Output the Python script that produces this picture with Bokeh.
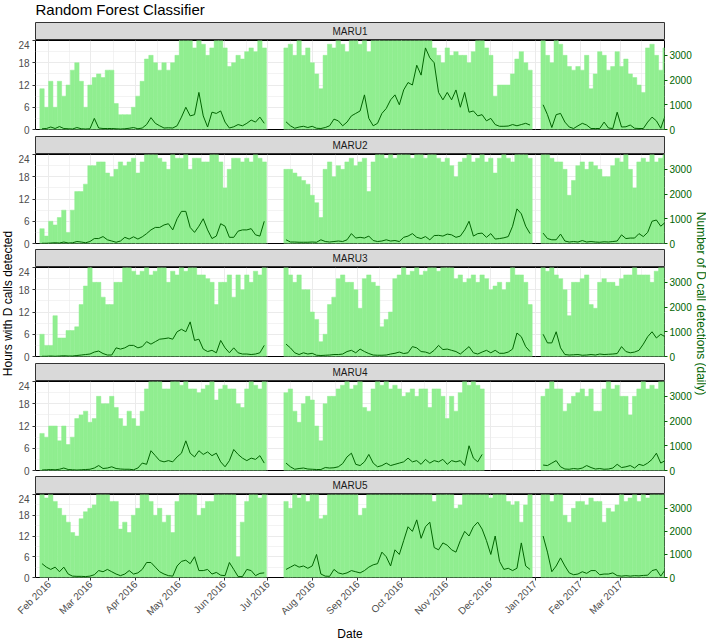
import math
import numpy as np
import pandas as pd
from bokeh.plotting import figure
from bokeh.layouts import column, row
from bokeh.models import (Range1d, LinearAxis, FixedTicker, Label, Grid,
                          DatetimeTickFormatter, ColumnDataSource)
from bokeh.embed import file_html
from bokeh.resources import INLINE

N = None  # no recording on that day

title_text = "Random Forest Classifier"
stations = ["MARU1", "MARU2", "MARU3", "MARU4", "MARU5"]
bin_start = "2016-01-26"      # first 3-day bin
bin_days = 3
x_start = "2016-01-23"
x_end = "2017-03-31 02:00"
month_ticks = ["2016-02-01", "2016-03-01", "2016-04-01", "2016-05-01", "2016-06-01",
               "2016-07-01", "2016-08-01", "2016-09-01", "2016-10-01", "2016-11-01",
               "2016-12-01", "2017-01-01", "2017-02-01", "2017-03-01"]
hour_ticks = [0, 6, 12, 18, 24]
hour_minor = [3, 9, 15, 21]
count_ticks = [0, 1000, 2000, 3000]
count_max = 3600

hours_maru1 = [11, 6, 13, 6, 13, 9, 12, 16, 18, 13,
               6, 12, 14, 15, 14, 16, 16, 7, 4, 4,
               4, 6, 9, 13, 19, 20, 18, 16, 18, 16,
               18, 20, 24, 24, 24, 22, 24, 23, 20, 22,
               24, 24, 22, 17, 18, 20, 19, 21, 22, 21,
               24, 22, N, N, N, N, 22, 23, 20, 24,
               20, 22, 18, 15, 11, 20, 23, 22, 24, 23,
               21, 24, 24, 23, 24, 21, 24, 24, 24, 24,
               24, 24, 24, 24, 24, 24, 24, 24, 24, 24,
               22, 20, 18, 22, 20, 21, 20, 20, 18, 21,
               24, 24, 22, 20, 9, 12, 12, 12, 15, 19,
               21, 18, 16, N, N, 24, 20, 18, 24, 23,
               20, 17, 16, 17, 16, 20, 11, 15, 21, 20,
               16, 17, 21, 17, 19, 15, 14, 12, 10, 22,
               23, 20, 16, 22]
counts_maru1 = [30, 40, 100, 40, 120, 40, 30, 20, 80, 30,
                20, 30, 450, 60, 40, 40, 40, 30, 20, 30,
                50, 80, 30, 60, 200, 480, 250, 150, 60, 70,
                60, 150, 500, 900, 550, 600, 1500, 550, 100, 700,
                650, 750, 300, 60, 110, 200, 150, 250, 380, 300,
                500, 250, N, N, N, N, 310, 150, 50, 100,
                130, 80, 130, 50, 40, 80, 150, 420, 350, 150,
                300, 550, 650, 750, 1400, 450, 150, 250, 650, 850,
                1200, 1400, 1000, 1600, 1900, 1800, 2600, 2200, 3300, 2900,
                2700, 1500, 1200, 1500, 1200, 1600, 900, 1500, 700, 750,
                550, 600, 350, 450, 200, 130, 130, 140, 200, 150,
                200, 250, 180, N, N, 1000, 600, 80, 600, 650,
                300, 100, 40, 150, 250, 180, 40, 40, 40, 300,
                60, 40, 700, 100, 110, 180, 50, 40, 40, 300,
                500, 350, 50, 550]

hours_maru2 = [4, 2, 6, 5, 7, 9, 3, 9, 14, 14,
               16, 21, 21, 22, 22, 19, 18, 20, 22, 21,
               22, 23, 19, 22, 24, 24, 24, 23, 22, 20,
               24, 23, 23, 24, 20, 23, 23, 22, 22, 24,
               24, 22, 15, 20, 23, 23, 22, 23, 22, 24,
               23, 22, N, N, N, N, 20, 20, 19, 18,
               17, 16, 13, 11, 7, 20, 22, 18, 21, 20,
               22, 23, 21, 22, 23, 14, 22, 24, 24, 23,
               24, 23, 24, 24, 24, 23, 24, 24, 23, 24,
               24, 23, 22, 23, 21, 18, 22, 23, 24, 22,
               23, 24, 22, 23, 19, 23, 24, 23, 22, 24,
               24, 24, 23, N, N, 24, 24, 23, 22, 22,
               20, 13, 17, 21, 22, 20, 22, 21, 20, 18,
               18, 21, 23, 22, 24, 20, 15, 22, 23, 22,
               24, 22, 23, 24]
counts_maru2 = [10, 10, 20, 30, 20, 60, 20, 30, 80, 60,
                30, 80, 200, 200, 280, 150, 100, 50, 100, 250,
                180, 270, 180, 270, 400, 550, 650, 650, 750, 800,
                550, 1000, 1300, 1300, 650, 450, 700, 1000, 550, 200,
                300, 800, 700, 250, 250, 500, 550, 550, 600, 350,
                300, 900, N, N, N, N, 150, 60, 60, 50,
                50, 50, 60, 50, 150, 80, 60, 80, 100, 80,
                150, 400, 220, 250, 220, 300, 120, 80, 100, 150,
                100, 120, 80, 250, 300, 400, 250, 200, 280, 150,
                320, 330, 300, 380, 350, 250, 300, 550, 900, 300,
                400, 420, 250, 400, 180, 200, 230, 280, 700, 1400,
                1200, 700, 400, N, N, 420, 200, 150, 150, 380,
                100, 60, 80, 60, 120, 60, 80, 60, 50, 70,
                60, 80, 100, 350, 200, 220, 220, 400, 280, 450,
                900, 950, 700, 850]

hours_maru3 = [6, 3, 3, 11, 5, 5, 7, 7, 8, 14,
               19, 24, 20, 20, 16, 14, 14, 20, 20, 24,
               24, 23, 22, 23, 24, 22, 23, 24, 24, 20,
               23, 22, 24, 23, 24, 24, 22, 22, 21, 20,
               14, 20, 20, 22, 16, 22, 18, 22, 20, 23,
               22, 24, N, N, N, N, 24, 22, 20, 22,
               18, 18, 12, 10, 4, 6, 14, 16, 21, 22,
               20, 20, 18, 13, 21, 22, 20, 19, 8, 10,
               12, 21, 22, 24, 22, 23, 24, 22, 23, 24,
               24, 23, 24, 24, 24, 21, 22, 20, 21, 22,
               20, 22, 21, 18, 19, 20, 18, 20, 24, 22,
               22, 20, 14, N, N, 24, 23, 24, 22, 21,
               18, 11, 20, 20, 21, 22, 14, 13, 20, 21,
               20, 20, 19, 21, 22, 22, 24, 22, 22, 22,
               20, 23, 24, 24]
counts_maru3 = [10, 10, 20, 10, 20, 30, 20, 20, 40, 60,
                80, 100, 180, 220, 120, 60, 60, 350, 300, 350,
                450, 450, 350, 400, 600, 500, 600, 700, 720, 750,
                700, 1000, 1100, 1000, 1400, 650, 700, 300, 200, 250,
                150, 650, 350, 150, 350, 150, 100, 100, 80, 100,
                150, 450, N, N, N, N, 500, 350, 150, 80,
                150, 100, 130, 50, 40, 50, 60, 80, 80, 100,
                200, 250, 150, 300, 200, 120, 60, 50, 50, 60,
                100, 130, 180, 120, 150, 400, 350, 200, 180, 120,
                250, 450, 280, 300, 250, 200, 100, 250, 400, 150,
                100, 180, 250, 150, 250, 130, 130, 180, 300, 950,
                800, 400, 200, N, N, 900, 550, 550, 1000, 350,
                80, 60, 70, 80, 50, 60, 80, 60, 100, 80,
                90, 100, 120, 400, 200, 150, 180, 250, 500, 800,
                1000, 750, 900, 800]

hours_maru4 = [10, 9, 12, 12, 8, 12, 7, 9, 14, 15,
               16, 13, 14, 20, 18, 18, 20, 17, 14, 12,
               16, 14, 12, 16, 22, 24, 24, 24, 22, 22,
               24, 24, 23, 24, 22, 22, 21, 22, 23, 24,
               19, 22, 23, 22, 22, 18, 17, 22, 24, 23,
               22, 24, N, N, N, N, 21, 22, 16, 13,
               18, 20, 19, 12, 8, 18, 20, 20, 22, 23,
               24, 22, 23, 24, 17, 16, 22, 24, 23, 24,
               22, 23, 22, 20, 21, 22, 20, 22, 22, 17,
               22, 22, 20, 14, 20, 16, 21, 24, 23, 24,
               23, 22, N, N, N, N, N, N, N, N,
               N, N, N, N, N, 20, 22, 24, 22, 22,
               16, 18, 20, 21, 22, 20, 22, 16, 16, 22,
               24, 22, 23, 20, 20, 15, 20, 22, 24, 22,
               23, 22, 24, 24]
counts_maru4 = [20, 30, 40, 30, 50, 100, 40, 30, 20, 30,
                40, 50, 100, 200, 80, 100, 150, 80, 60, 50,
                50, 30, 100, 300, 250, 800, 600, 400, 350, 400,
                350, 550, 700, 1200, 700, 550, 800, 650, 750, 600,
                700, 350, 150, 400, 850, 650, 500, 400, 500, 450,
                600, 300, N, N, N, N, 300, 150, 50, 80,
                100, 60, 50, 40, 40, 120, 100, 110, 150, 280,
                550, 700, 250, 200, 350, 650, 300, 150, 200, 300,
                200, 250, 300, 350, 500, 350, 400, 250, 450, 300,
                400, 350, 450, 250, 400, 350, 400, 200, 1000, 500,
                350, 650, N, N, N, N, N, N, N, N,
                N, N, N, N, N, 220, 200, 300, 400, 150,
                60, 50, 80, 60, 100, 200, 120, 60, 80, 50,
                60, 100, 250, 120, 150, 200, 100, 250, 200, 300,
                450, 700, 300, 400]

hours_maru5 = [24, 23, 24, 22, 20, 18, 16, 13, 12, 17,
               19, 20, 21, 24, 24, 24, 22, 22, 14, 16,
               13, 18, 20, 24, 24, 22, 18, 20, 16, 18,
               13, 22, 24, 24, 24, 24, 18, 20, 22, 22,
               24, 24, 24, 24, 24, 6, 16, 22, 24, 24,
               23, 24, N, N, N, N, 22, 20, 24, 23,
               24, 22, 24, 24, 17, 18, 24, 24, 24, 24,
               24, 24, 24, 18, 20, 24, 24, 24, 24, 24,
               24, 24, 24, 24, 24, 24, 24, 24, 24, 24,
               22, 24, 24, 24, 24, 20, 21, 24, 24, 24,
               24, 24, 24, 23, 24, 24, 24, 22, 21, 22,
               16, 21, 24, N, N, 24, 24, 22, 24, 24,
               18, 16, 20, 22, 22, 21, 23, 22, 22, 16,
               20, 19, 21, 24, 22, 23, 24, 22, 24, 23,
               24, 24, 24, 24]
counts_maru5 = [600, 450, 350, 450, 250, 450, 150, 60, 50, 50,
                40, 60, 120, 300, 250, 350, 250, 150, 80, 150,
                300, 150, 200, 350, 650, 650, 450, 250, 150, 80,
                60, 500, 700, 750, 600, 900, 300, 300, 350, 150,
                220, 100, 80, 650, 350, 40, 40, 350, 300, 80,
                180, 200, N, N, N, N, 350, 450, 550, 450,
                500, 400, 500, 1000, 150, 60, 50, 350, 200, 150,
                200, 300, 250, 200, 300, 450, 550, 600, 1100, 900,
                500, 1200, 1000, 1600, 2200, 2000, 2500, 1700, 2200, 2400,
                1300, 1200, 1500, 1400, 1200, 1100, 1600, 2000, 1800, 2200,
                2400, 2100, 1600, 1000, 1800, 700, 350, 400, 300, 400,
                1500, 500, 350, N, N, 1800, 1100, 250, 500, 850,
                500, 200, 120, 150, 250, 180, 300, 300, 120, 150,
                150, 200, 80, 60, 80, 60, 80, 70, 90, 100,
                300, 350, 60, 330]

hours_all = [hours_maru1, hours_maru2, hours_maru3, hours_maru4, hours_maru5]
counts_all = [counts_maru1, counts_maru2, counts_maru3, counts_maru4, counts_maru5]

# ---------------- styling / layout ----------------
FONT = "Liberation Sans"
BAR = "#90EE90"
LINE = "#006400"
GRID = "#EBEBEB"
W_LEFT, W_RIGHT, W_MID = 15, 12, 679
L, R = 19, 28
TITLE_H, STRIP_H, FRAME_H, XAX_H = 22, 18, 89, 61
GAPS = [7, 6, 7, 6]
TOTAL_H = TITLE_H + 5 * (STRIP_H + FRAME_H) + sum(GAPS) + XAX_H
PANEL_MID_FROM_TOP = 303

def ms(s):
    return pd.Timestamp(s).value // 10**6

DAY = 86400000
t0 = ms(bin_start)
n = len(hours_maru1)
x_ms = np.array([t0 + (bin_days * i + bin_days / 2) * DAY for i in range(n)], dtype=float)
bar_w = bin_days * DAY
month_ms = [ms(m) for m in month_ticks]
mid_ms = [(a + b) / 2 for a, b in zip(month_ms[:-1], month_ms[1:])]
mid_ms = [month_ms[0] - (month_ms[1] - month_ms[0]) / 2] + mid_ms + [month_ms[-1] + (month_ms[-1] - month_ms[-2]) / 2]

x_range = Range1d(ms(x_start), ms(x_end))


def blank(width, height, **kw):
    f = figure(width=width, height=height, output_backend="svg", toolbar_location=None,
               x_axis_location=None, y_axis_location=None, border_fill_color="white",
               **kw)
    f.grid.visible = False
    return f


def make_title():
    t = blank(W_MID, TITLE_H, x_range=Range1d(0, 1), y_range=Range1d(0, TITLE_H),
              min_border_left=L, min_border_right=R, min_border_top=0, min_border_bottom=0,
              outline_line_color=None)
    t.add_layout(Label(x=0, y=TITLE_H - 8.5, text=title_text, text_font=FONT,
                       text_font_size="15px", text_color="black",
                       text_baseline="middle", text_align="left"))
    return t


def make_strip(name):
    s = blank(W_MID, STRIP_H, x_range=Range1d(0, 1), y_range=Range1d(0, 1),
              min_border_left=L, min_border_right=R, min_border_top=0, min_border_bottom=0,
              background_fill_color="#D9D9D9", outline_line_color="#333333",
              outline_line_width=1)
    s.add_layout(Label(x=0.5, y=0.5, text=name, text_font=FONT, text_font_size="10px",
                       text_color="#1A1A1A", text_align="center", text_baseline="middle"))
    return s


def make_panel(hours, counts, bottom, last):
    p = figure(width=W_MID, height=FRAME_H + bottom, x_axis_type="datetime",
               x_range=x_range, y_range=Range1d(0, 24),
               x_axis_location="below" if last else None,
               output_backend="svg", toolbar_location=None,
               min_border_left=L, min_border_right=R, min_border_top=0,
               min_border_bottom=bottom, background_fill_color="white",
               border_fill_color="white", outline_line_color="black",
               outline_line_width=1)
    p.extra_y_ranges = {"cnt": Range1d(0, count_max)}
    p.xgrid.visible = False
    p.add_layout(Grid(dimension=0, ticker=FixedTicker(ticks=month_ms, minor_ticks=mid_ms),
                      grid_line_color=GRID, grid_line_width=1,
                      minor_grid_line_color=GRID, minor_grid_line_width=0.6))
    ya = p.yaxis[0]
    ya.ticker = FixedTicker(ticks=hour_ticks, minor_ticks=hour_minor)
    ya.axis_line_color = None
    ya.major_tick_out = 3
    ya.major_tick_in = 0
    ya.minor_tick_line_color = None
    ya.major_tick_line_color = "#333333"
    ya.major_label_standoff = 2
    ya.major_label_text_font = FONT
    ya.major_label_text_font_size = "10px"
    ya.major_label_text_color = "#4D4D4D"
    p.ygrid.grid_line_color = GRID
    p.ygrid.minor_grid_line_color = GRID
    p.ygrid.minor_grid_line_width = 0.6

    src = ColumnDataSource(dict(x=x_ms,
                                h=np.array(hours, dtype=float),
                                c=np.array(counts, dtype=float)))
    p.vbar(x="x", top="h", bottom=0, width=bar_w, source=src,
           fill_color=BAR, line_color=BAR, line_width=0.5)
    p.line(x="x", y="c", source=src, y_range_name="cnt", line_color=LINE, line_width=1.0)

    ra = LinearAxis(y_range_name="cnt", ticker=FixedTicker(ticks=count_ticks))
    ra.axis_line_color = None
    ra.major_tick_out = 3
    ra.major_tick_in = 0
    ra.minor_tick_line_color = None
    ra.major_tick_line_color = LINE
    ra.major_label_standoff = 2
    ra.major_label_text_font = FONT
    ra.major_label_text_font_size = "10px"
    ra.major_label_text_color = LINE
    p.add_layout(ra, "right")

    if last:
        xa = p.xaxis[0]
        xa.ticker = FixedTicker(ticks=month_ms)
        fmt = "%b %Y"
        xa.formatter = DatetimeTickFormatter(microseconds=fmt, milliseconds=fmt, seconds=fmt,
                                             minsec=fmt, minutes=fmt, hourmin=fmt, hours=fmt,
                                             days=fmt, months=fmt, years=fmt)
        xa.axis_line_color = None
        xa.major_tick_out = 3
        xa.major_tick_in = 0
        xa.minor_tick_line_color = None
        xa.major_tick_line_color = "#333333"
        xa.major_label_orientation = math.pi / 4
        xa.major_label_standoff = 2
        xa.major_label_text_font = FONT
        xa.major_label_text_font_size = "10px"
        xa.major_label_text_color = "#4D4D4D"
        xa.axis_label = "Date"
        xa.axis_label_standoff = 3
        xa.axis_label_text_font = FONT
        xa.axis_label_text_font_size = "12px"
        xa.axis_label_text_font_style = "normal"
        xa.axis_label_text_color = "black"
    return p


mid_children = [make_title()]
for k, (name, hrs, cnt) in enumerate(zip(stations, hours_all, counts_all)):
    last = k == len(stations) - 1
    mid_children.append(make_strip(name))
    mid_children.append(make_panel(hrs, cnt, XAX_H if last else GAPS[k], last))

label_y = TOTAL_H - PANEL_MID_FROM_TOP

left = blank(W_LEFT, TOTAL_H, x_range=Range1d(0, W_LEFT), y_range=Range1d(0, TOTAL_H),
             min_border_left=0, min_border_right=0, min_border_top=0, min_border_bottom=0,
             outline_line_color=None)
left.add_layout(Label(x=W_LEFT / 2, y=label_y, text="Hours with D calls detected",
                      angle=math.pi / 2, text_font=FONT, text_font_size="12px",
                      text_color="black", text_align="center", text_baseline="middle"))

right = blank(W_RIGHT, TOTAL_H, x_range=Range1d(0, W_RIGHT), y_range=Range1d(0, TOTAL_H),
              min_border_left=0, min_border_right=0, min_border_top=0, min_border_bottom=0,
              outline_line_color=None)
right.add_layout(Label(x=W_RIGHT / 2, y=label_y, text="Number of D call detections (daily)",
                       angle=-math.pi / 2, text_font=FONT, text_font_size="12px",
                       text_color=LINE, text_align="center", text_baseline="middle"))

layout = row(left, column(*mid_children, spacing=0), right, spacing=0)

open("out.html", "w").write(file_html(layout, INLINE))
